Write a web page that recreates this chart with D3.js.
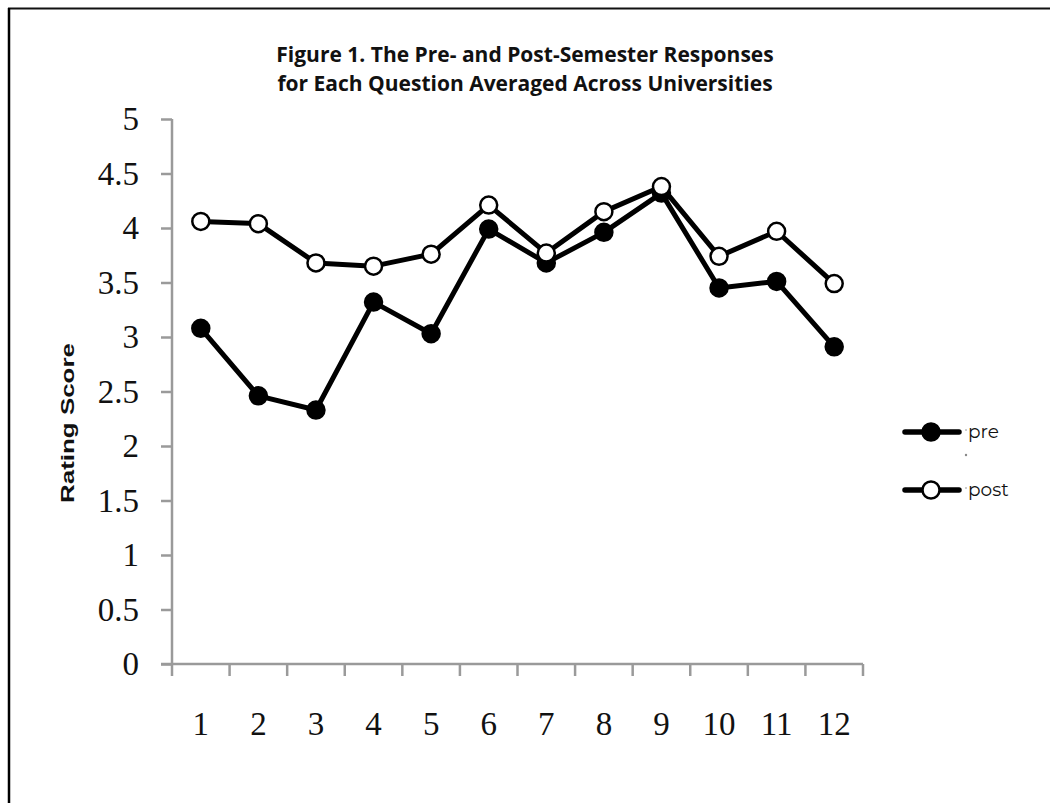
<!DOCTYPE html>
<html>
<head>
<meta charset="utf-8">
<script src="https://cdn.jsdelivr.net/npm/d3@7"></script>
<style>
  html, body { margin: 0; padding: 0; background: #fff; }
  svg { display: block; }
</style>
</head>
<body>
<svg id="chart" width="1050" height="803"></svg>
<script>
const categories = ["1","2","3","4","5","6","7","8","9","10","11","12"];
const preValues  = [3.08, 2.46, 2.33, 3.32, 3.03, 3.99, 3.68, 3.96, 4.32, 3.45, 3.51, 2.91];
const postValues = [4.06, 4.04, 3.68, 3.65, 3.76, 4.21, 3.77, 4.15, 4.38, 3.74, 3.97, 3.49];
const yTicks = [0, 0.5, 1, 1.5, 2, 2.5, 3, 3.5, 4, 4.5, 5];
const titleLines = ["Figure 1. The Pre- and Post-Semester Responses", "for Each Question Averaged Across Universities"];
const seriesNames = ["pre", "post"];

const svg = d3.select("#chart");

// frame
svg.append("line").attr("x1", 8).attr("x2", 1050).attr("y1", 8.5).attr("y2", 8.5)
  .attr("stroke", "#111").attr("stroke-width", 2);
svg.append("line").attr("x1", 9).attr("x2", 9).attr("y1", 8).attr("y2", 803)
  .attr("stroke", "#000").attr("stroke-width", 2.5);

// title
svg.append("g").selectAll("text").data(titleLines).join("text")
  .attr("x", 525).attr("y", (d, i) => 62 + i * 29)
  .attr("text-anchor", "middle")
  .attr("font-family", "'Open Sans', sans-serif")
  .attr("font-weight", "bold").attr("font-size", 21)
  .attr("fill", "#111")
  .text(d => d);

const x = d3.scaleBand().domain(categories).range([172, 863]);
const y = d3.scaleLinear().domain([0, 5]).range([664, 119]);

const tickFont = "'Liberation Serif', 'Times New Roman', serif";

// y axis
const yAxis = svg.append("g").attr("transform", "translate(172,0)")
  .call(d3.axisLeft(y).tickValues(yTicks).tickSize(11).tickFormat(d3.format("")));
yAxis.select(".domain").attr("stroke", "#9a9a9a").attr("stroke-width", 2.5).attr("d", "M0,119V664");
yAxis.selectAll(".tick line").attr("stroke", "#9a9a9a").attr("stroke-width", 2.5);
yAxis.selectAll(".tick text").attr("font-family", tickFont)
  .attr("font-size", 33).attr("fill", "#111").attr("x", -33).attr("dy", "0.33em");

// x axis
const xAxis = svg.append("g").attr("transform", "translate(0,664)")
  .call(d3.axisBottom(x).tickSize(0).tickPadding(48));
xAxis.select(".domain").attr("stroke", "#9a9a9a").attr("stroke-width", 2.5).attr("d", "M161,0H863");
xAxis.selectAll(".tick text").attr("font-family", tickFont)
  .attr("font-size", 33).attr("fill", "#111").attr("y", 71).attr("dy", 0);
// tick marks at band boundaries
const boundaries = categories.map(c => x(c)).concat([x.range()[1]]);
xAxis.append("g").selectAll("line").data(boundaries).join("line")
  .attr("x1", d => d).attr("x2", d => d).attr("y1", 0).attr("y2", 12)
  .attr("stroke", "#9a9a9a").attr("stroke-width", 2.5);

// y label
svg.append("text")
  .attr("transform", "translate(74,423) rotate(-90)")
  .attr("text-anchor", "middle")
  .attr("font-family", "'Liberation Sans', Arial, sans-serif")
  .attr("font-weight", "bold").attr("font-size", 19)
  .attr("textLength", 160).attr("lengthAdjust", "spacingAndGlyphs")
  .attr("fill", "#111")
  .text("Rating Score");

const cx = c => x(c) + x.bandwidth() / 2;
const line = d3.line().x((d, i) => cx(categories[i])).y(d => y(d));

function drawSeries(vals, fill) {
  const g = svg.append("g");
  g.append("path").datum(vals).attr("d", line)
    .attr("fill", "none").attr("stroke", "#000").attr("stroke-width", 5)
    .attr("stroke-linejoin", "round");
  g.selectAll("circle").data(vals).join("circle")
    .attr("cx", (d, i) => cx(categories[i])).attr("cy", d => y(d))
    .attr("r", 8.5).attr("fill", fill).attr("stroke", "#000").attr("stroke-width", 2.5);
}
drawSeries(preValues, "#000");
drawSeries(postValues, "#fff");

// legend
const legend = svg.append("g");
const legendY = [432, 490];
const legendFill = ["#000", "#fff"];
seriesNames.forEach((name, i) => {
  const ly = legendY[i];
  legend.append("line").attr("x1", 905).attr("x2", 959).attr("y1", ly).attr("y2", ly)
    .attr("stroke", "#000").attr("stroke-width", 5.5).attr("stroke-linecap", "round");
  legend.append("circle").attr("cx", 931).attr("cy", ly).attr("r", 8.5)
    .attr("fill", legendFill[i]).attr("stroke", "#000").attr("stroke-width", 2.5);
  legend.append("circle").attr("cx", 966).attr("cy", ly - 2).attr("r", 1).attr("fill", "#bbb");
  legend.append("text").attr("x", 968).attr("y", ly + 6)
    .attr("font-family", "'Montserrat', 'Open Sans', sans-serif").attr("font-size", 18.5)
    .attr("fill", "#111").text(name);
});
legend.append("circle").attr("cx", 966).attr("cy", 455).attr("r", 1.2).attr("fill", "#888");
</script>
</body>
</html>
